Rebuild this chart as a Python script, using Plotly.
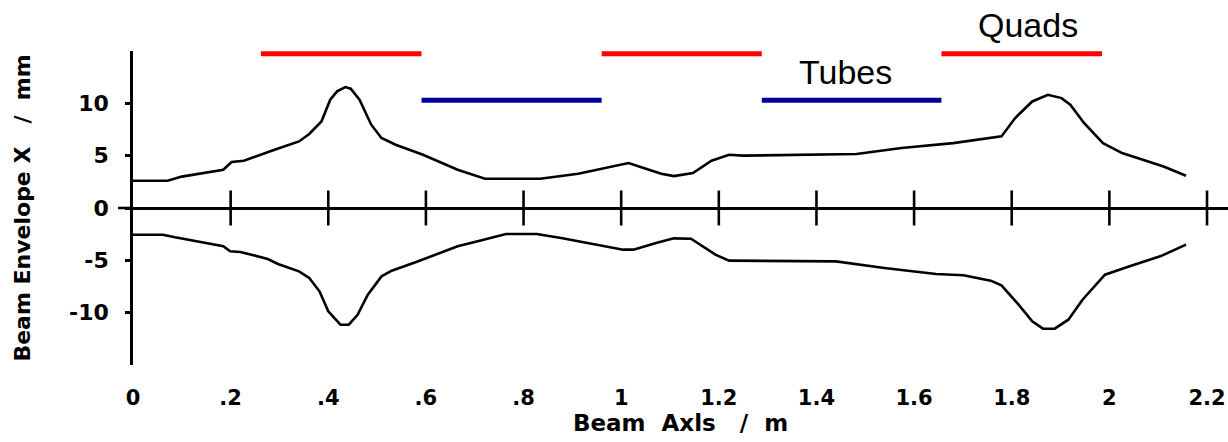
import plotly.graph_objects as go

# ---- data ----
pos_upper = [0.0, 0.071, 0.100, 0.185, 0.202, 0.227, 0.290, 0.340, 0.361, 0.386, 0.404, 0.418,
             0.435, 0.446, 0.464, 0.488, 0.509, 0.538, 0.594, 0.665, 0.721, 0.834, 0.912, 0.983,
             1.015, 1.046, 1.082, 1.108, 1.147, 1.185, 1.221, 1.249, 1.397, 1.482, 1.574, 1.680,
             1.779, 1.807, 1.842, 1.874, 1.902, 1.920, 1.948, 1.987, 2.026, 2.111, 2.157]
env_upper = [2.6, 2.6, 3.0, 3.66, 4.39, 4.52, 5.57, 6.36, 7.07, 8.27, 10.34, 11.14,
             11.55, 11.4, 10.34, 7.96, 6.69, 6.05, 5.09, 3.66, 2.8, 2.8, 3.28, 3.97,
             4.3, 3.82, 3.28, 3.05, 3.34, 4.52, 5.09, 5.0, 5.09, 5.16, 5.73, 6.2,
             6.84, 8.6, 10.18, 10.82, 10.5, 9.87, 8.12, 6.2, 5.25, 3.97, 3.08]

pos_lower = [0.0, 0.061, 0.086, 0.185, 0.199, 0.220, 0.276, 0.297, 0.340, 0.361, 0.382, 0.400,
             0.425, 0.442, 0.460, 0.481, 0.509, 0.530, 0.580, 0.665, 0.700, 0.764, 0.827, 0.877,
             1.004, 1.025, 1.075, 1.108, 1.143, 1.193, 1.221, 1.355, 1.440, 1.539, 1.645, 1.701,
             1.757, 1.779, 1.814, 1.842, 1.864, 1.888, 1.916, 1.945, 1.991, 2.040, 2.104, 2.157]
env_lower = [-2.55, -2.55, -2.8, -3.66, -4.14, -4.2, -4.87, -5.35, -6.05, -6.69, -7.96, -9.87,
             -11.15, -11.15, -10.2, -8.28, -6.53, -5.99, -5.16, -3.66, -3.25, -2.48, -2.48, -2.86,
             -3.98, -3.98, -3.3, -2.9, -2.93, -4.46, -5.03, -5.03, -5.10, -5.73, -6.30, -6.43,
             -6.94, -7.39, -9.24, -10.83, -11.53, -11.53, -10.67, -8.76, -6.37, -5.58, -4.62, -3.5]

quad_start = [0.262, 0.960, 1.656]
quad_end = [0.591, 1.288, 1.985]
tube_start = [0.591, 1.288]
tube_end = [0.960, 1.656]
quad_level = 14.74
tube_level = 10.3

x_ticks = [0, 0.2, 0.4, 0.6, 0.8, 1.0, 1.2, 1.4, 1.6, 1.8, 2.0, 2.2]
x_tick_labels = ["0", ".2", ".4", ".6", ".8", "1", "1.2", "1.4", "1.6", "1.8", "2", "2.2"]
y_ticks = [-10, -5, 0, 5, 10]
y_tick_labels = ["-10", "-5", "0", "5", "10"]

x_title = "Beam\u00a0\u00a0Axls\u00a0\u00a0\u00a0/\u00a0\u00a0m"
y_title = "Beam\u00a0Envelope\u00a0X\u00a0\u00a0\u00a0/\u00a0\u00a0mm"


def segments(starts, ends, level):
    xs, ys = [], []
    for s, e in zip(starts, ends):
        xs += [s, e, None]
        ys += [level, level, None]
    return xs, ys


W, H = 1228, 442
ML, MR, MT, MB = 133, 0, 51, 77
plot_w = W - ML - MR

fig = go.Figure()

fig.add_trace(go.Scatter(x=pos_upper, y=env_upper, mode="lines",
                         line=dict(color="black", width=2.6), showlegend=False))
fig.add_trace(go.Scatter(x=pos_lower, y=env_lower, mode="lines",
                         line=dict(color="black", width=2.6), showlegend=False))

qx, qy = segments(quad_start, quad_end, quad_level)
tx, ty = segments(tube_start, tube_end, tube_level)
fig.add_trace(go.Scatter(x=qx, y=qy, mode="lines",
                         line=dict(color="#ff0000", width=5), showlegend=False))
fig.add_trace(go.Scatter(x=tx, y=ty, mode="lines",
                         line=dict(color="#000099", width=5), showlegend=False))

# crossing tick marks on the zero axis line
fig.add_trace(go.Scatter(x=x_ticks[1:], y=[0] * (len(x_ticks) - 1), mode="markers",
                         marker=dict(symbol="line-ns", size=25,
                                     line=dict(color="black", width=2.6)),
                         cliponaxis=False, showlegend=False, hoverinfo="skip"))

# zero axis line extension to the left of the y axis
fig.add_shape(type="line", xref="paper", yref="y",
              x0=-15 / plot_w, x1=0, y0=0, y1=0,
              line=dict(color="black", width=2.6))

fig.add_annotation(x=(tube_start[-1] + tube_end[-1]) / 2, y=tube_level, xref="x", yref="y",
                   text="Tubes", showarrow=False, yanchor="bottom", yshift=7, xshift=-6,
                   font=dict(family="Liberation Sans, Arial", size=34, color="black"))
fig.add_annotation(x=(quad_start[-1] + quad_end[-1]) / 2, y=quad_level, xref="x", yref="y",
                   text="Quads", showarrow=False, yanchor="bottom", yshift=8, xshift=6,
                   font=dict(family="Liberation Sans, Arial", size=34, color="black"))

tick_font = dict(family="DejaVu Sans", size=21, color="black", weight="bold")

fig.update_layout(
    width=W, height=H,
    margin=dict(l=ML, r=MR, t=MT, b=MB, pad=0),
    paper_bgcolor="white", plot_bgcolor="white",
    showlegend=False,
    xaxis=dict(range=[0, 2.243], tickvals=x_ticks, ticktext=x_tick_labels,
               showgrid=False, zeroline=False, showline=False, ticks="",
               tickfont=tick_font, ticklabelstandoff=18,
               title=dict(text=x_title, font=dict(family="DejaVu Sans", size=23,
                                                   color="black", weight="bold"),
                          standoff=0)),
    yaxis=dict(range=[-15, 15], tickvals=y_ticks, ticktext=y_tick_labels,
               showgrid=False, zeroline=True, zerolinecolor="black", zerolinewidth=2.6,
               showline=True, linecolor="black", linewidth=2.6,
               ticks="outside", ticklen=5, tickwidth=2.6, tickcolor="black",
               tickfont=dict(family="DejaVu Sans", size=22, color="black", weight="bold"),
               ticklabelstandoff=12,
               title=dict(text=y_title, font=dict(family="DejaVu Sans", size=22,
                                                   color="black", weight="bold"),
                          standoff=33)),
)

fig.write_html("out.html",
               config={"displayModeBar": False},
               post_script="document.body.style.margin='0';"
                           "document.body.style.overflow='hidden';")
